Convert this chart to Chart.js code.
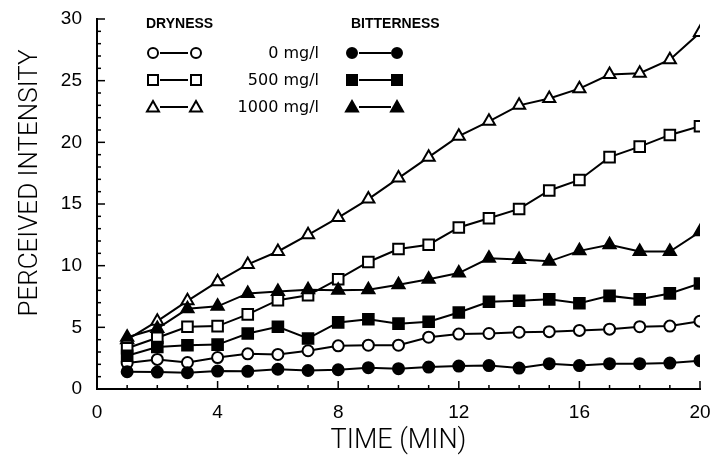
<!DOCTYPE html>
<html>
<head>
<meta charset="utf-8">
<script src="https://cdn.jsdelivr.net/npm/chart.js@4"></script>
<style>
  html, body { margin: 0; padding: 0; background: #fff; }
  #wrap { width: 714px; height: 461px; }
</style>
</head>
<body>
<div id="wrap"><canvas id="intensity-chart"></canvas></div>
<script>
// time axis (min) and perceived intensity per series
var minutes = [1, 2, 3, 4, 5, 6, 7, 8, 9, 10, 11, 12, 13, 14, 15, 16, 17, 18, 19, 20];
var dryness0 = [2.1, 2.4, 2.15, 2.55, 2.85, 2.8, 3.1, 3.5, 3.55, 3.55, 4.2, 4.45, 4.5, 4.6, 4.65, 4.75, 4.85, 5.05, 5.1, 5.5];
var dryness500 = [3.3, 4.15, 5.05, 5.1, 6.05, 7.2, 7.6, 8.9, 10.3, 11.35, 11.7, 13.1, 13.85, 14.6, 16.1, 16.95, 18.8, 19.65, 20.6, 21.3];
var dryness1000 = [4.0, 5.5, 7.15, 8.7, 10.1, 11.15, 12.5, 13.9, 15.4, 17.1, 18.8, 20.5, 21.7, 23.0, 23.55, 24.35, 25.5, 25.6, 26.7, 28.9];
var bitter0 = [1.4, 1.37, 1.32, 1.45, 1.43, 1.6, 1.5, 1.56, 1.73, 1.65, 1.78, 1.86, 1.9, 1.7, 2.05, 1.9, 2.05, 2.05, 2.1, 2.3];
var bitter500 = [2.7, 3.4, 3.55, 3.6, 4.5, 5.05, 4.1, 5.4, 5.65, 5.3, 5.45, 6.2, 7.07, 7.16, 7.27, 6.95, 7.55, 7.27, 7.75, 8.55];
var bitter1000 = [4.2, 4.9, 6.5, 6.7, 7.75, 7.9, 8.05, 8.0, 8.05, 8.45, 8.9, 9.4, 10.6, 10.5, 10.35, 11.2, 11.7, 11.15, 11.15, 12.75];
var doseLabels = ["0 mg/l", "500 mg/l", "1000 mg/l"];
var xTicks = [0, 4, 8, 12, 16, 20];
var yTicks = [0, 5, 10, 15, 20, 25, 30];
var titleFont = '300 26px Roboto, "Liberation Sans", sans-serif';

function pts(vals) {
  return vals.map(function (v, i) { return { x: minutes[i], y: v }; });
}

function series(name, vals, shape, filled) {
  var r = shape === 'circle' ? 5.5 : (shape === 'rect' ? 7.5 : 7);
  return {
    label: name,
    data: pts(vals),
    borderColor: '#000',
    borderWidth: 2,
    backgroundColor: filled ? '#000' : '#fff',
    pointStyle: shape,
    pointRadius: r,
    pointBorderWidth: 2,
    pointBorderColor: '#000',
    pointBackgroundColor: filled ? '#000' : '#fff',
    tension: 0
  };
}

function marker(ctx, shape, x, y, filled) {
  ctx.save();
  ctx.lineWidth = 2;
  ctx.strokeStyle = '#000';
  ctx.fillStyle = filled ? '#000' : '#fff';
  ctx.beginPath();
  if (shape === 'circle') {
    ctx.arc(x, y, 5, 0, Math.PI * 2);
  } else if (shape === 'rect') {
    ctx.rect(x - 5, y - 5, 10, 10);
  } else {
    ctx.moveTo(x, y - 6);
    ctx.lineTo(x + 6, y + 4.5);
    ctx.lineTo(x - 6, y + 4.5);
    ctx.closePath();
  }
  ctx.fill();
  ctx.stroke();
  ctx.restore();
}

// inward tick marks, y title and the two-column key
var decor = {
  id: 'decor',
  beforeDatasetsDraw: function (chart) {
    var ctx = chart.ctx, xs = chart.scales.x, ys = chart.scales.y;
    var a = chart.chartArea;
    ctx.save();
    ctx.strokeStyle = '#000';
    ctx.lineWidth = 1.5;
    for (var i = 1; i <= 20; i++) {
      var px = xs.getPixelForValue(i);
      var len = (i % 4 === 0) ? 8 : 4;
      ctx.beginPath(); ctx.moveTo(px, a.bottom); ctx.lineTo(px, a.bottom - len); ctx.stroke();
    }
    for (var j = 1; j <= 30; j++) {
      var py = ys.getPixelForValue(j);
      var l2 = (j % 5 === 0) ? 8 : 4;
      ctx.beginPath(); ctx.moveTo(a.left, py); ctx.lineTo(a.left + l2, py); ctx.stroke();
    }
    ctx.restore();
  },
  afterDraw: function (chart) {
    var ctx = chart.ctx;
    ctx.save();
    ctx.fillStyle = '#000';
    // y axis title, a bit above centre like the original
    ctx.save();
    ctx.translate(30, 183);
    ctx.rotate(-Math.PI / 2);
    ctx.font = titleFont;
    ctx.textAlign = 'center';
    ctx.textBaseline = 'middle';
    ctx.fillText('PERCEIVED INTENSITY', 0, 0);
    ctx.restore();

    ctx.font = 'bold 14px "Liberation Sans", sans-serif';
    ctx.textBaseline = 'middle';
    ctx.textAlign = 'left';
    ctx.fillText('DRYNESS', 146, 24);
    ctx.fillText('BITTERNESS', 351, 24);
    var shapes = ['circle', 'rect', 'triangle'];
    var rows = [53, 80, 107];
    ctx.font = '16px "DejaVu Sans", sans-serif';
    for (var k = 0; k < 3; k++) {
      var y = rows[k];
      ctx.lineWidth = 2;
      ctx.strokeStyle = '#000';
      ctx.beginPath(); ctx.moveTo(160, y); ctx.lineTo(188, y); ctx.stroke();
      ctx.beginPath(); ctx.moveTo(359, y); ctx.lineTo(391, y); ctx.stroke();
      marker(ctx, shapes[k], 153, y, false);
      marker(ctx, shapes[k], 196, y, false);
      marker(ctx, shapes[k], 352, y, true);
      marker(ctx, shapes[k], 397, y, true);
      ctx.textAlign = 'right';
      ctx.fillStyle = '#000';
      ctx.fillText(doseLabels[k], 319, y + 1);
    }
    ctx.restore();
  }
};

new Chart(document.getElementById('intensity-chart'), {
  type: 'line',
  data: {
    datasets: [
      series('Bitterness 0 mg/l', bitter0, 'circle', true),
      series('Bitterness 500 mg/l', bitter500, 'rect', true),
      series('Bitterness 1000 mg/l', bitter1000, 'triangle', true),
      series('Dryness 0 mg/l', dryness0, 'circle', false),
      series('Dryness 500 mg/l', dryness500, 'rect', false),
      series('Dryness 1000 mg/l', dryness1000, 'triangle', false)
    ]
  },
  options: {
    responsive: true,
    maintainAspectRatio: false,
    animation: false,
    layout: { padding: { top: 19, right: 14, left: 0, bottom: 0 } },
    plugins: {
      legend: { display: false },
      tooltip: { enabled: false }
    },
    scales: {
      x: {
        type: 'linear',
        min: 0, max: 20,
        afterBuildTicks: function (s) { s.ticks = xTicks.map(function (v) { return { value: v }; }); },
        afterFit: function (s) { s.height = 72; s.paddingLeft = 0; s.paddingRight = 0; },
        grid: { display: false },
        border: { display: true, color: '#000', width: 2 },
        ticks: { color: '#000', padding: 4, font: { family: '"Liberation Sans", sans-serif', size: 19 }, maxRotation: 0 },
        title: {
          display: true, text: 'TIME (MIN)', color: '#000',
          font: { family: 'Roboto, "Liberation Sans", sans-serif', size: 27, weight: '300' },
          padding: { top: 0 }
        }
      },
      y: {
        min: 0, max: 30,
        afterBuildTicks: function (s) { s.ticks = yTicks.map(function (v) { return { value: v }; }); },
        afterFit: function (s) { s.width = 97; s.paddingTop = 0; s.paddingBottom = 0; },
        grid: { display: false },
        border: { display: true, color: '#000', width: 2 },
        ticks: { color: '#000', padding: 7, font: { family: '"Liberation Sans", sans-serif', size: 19 } }
      }
    }
  },
  plugins: [decor]
});
</script>
</body>
</html>
